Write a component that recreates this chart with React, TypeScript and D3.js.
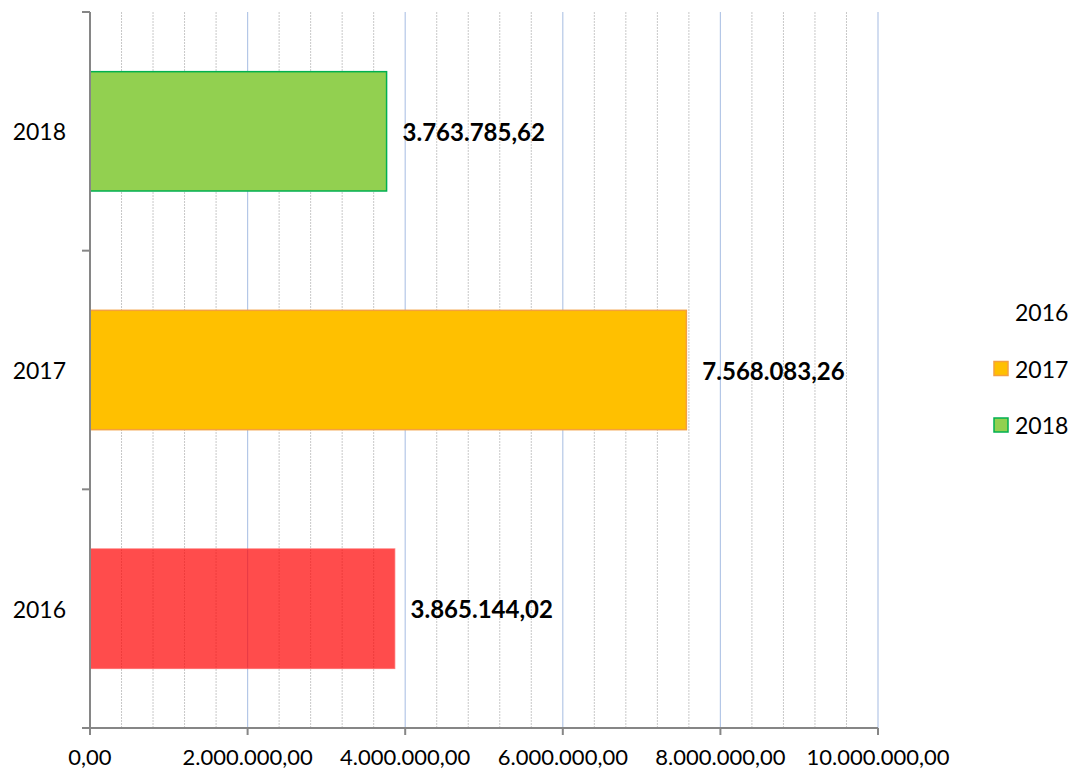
import React from "react";
import * as d3 from "d3";

const categories = ["2016", "2017", "2018"];
const values = [3865144.02, 7568083.26, 3763785.62];
const fills = ["#FF0000", "#FFC000", "#92D050"];
const strokes = ["#FF5050", "#F4A040", "#00B050"];
const fillOpacity = [0.7, 1, 1];
const xTicks = [0, 2000000, 4000000, 6000000, 8000000, 10000000];
const legendItems = ["2016", "2017", "2018"];

const W = 1076, H = 772;
const M = { left: 90, right: 198, top: 12, bottom: 44 };
const FONT = "Lato, 'Open Sans', sans-serif";

function fmt(v: number) {
  const [i, d] = v.toFixed(2).split(".");
  return i.replace(/\B(?=(\d{3})+(?!\d))/g, ".") + "," + d;
}

export default function App() {
  const x = d3.scaleLinear().domain([0, 10000000]).range([M.left, W - M.right]);
  const y = d3.scaleBand().domain([...categories].reverse()).range([M.top, H - M.bottom]).paddingInner(0.5).paddingOuter(0.25);
  const minor = d3.range(0, 10000001, 400000).filter((v) => v % 2000000 !== 0);
  const band = (H - M.bottom - M.top) / categories.length;
  const bottom = H - M.bottom;
  return (
    <svg width={W} height={H} style={{ position: "absolute", left: 0, top: 0 }} fontFamily={FONT}>
      <rect width={W} height={H} fill="#fff" />
      {minor.map((v) => (
        <line key={"m" + v} x1={x(v)} x2={x(v)} y1={M.top} y2={bottom} stroke="#C8C8C8" strokeWidth={1} strokeDasharray="2,1" />
      ))}
      {xTicks.slice(1).map((v) => (
        <line key={"g" + v} x1={x(v)} x2={x(v)} y1={M.top} y2={bottom} stroke="#B4C7E7" strokeWidth={1.2} />
      ))}
      {categories.map((c, i) => (
        <g key={c}>
          <rect x={x(0)} y={y(c)!} width={x(values[i]) - x(0)} height={y.bandwidth()} fill={fills[i]} fillOpacity={fillOpacity[i]} stroke={strokes[i]} strokeWidth={1.5} strokeOpacity={fillOpacity[i]} />
          <text x={x(values[i]) + 16} y={y(c)! + y.bandwidth() / 2} dominantBaseline="central" fontWeight="bold" fontSize={24} fill="#000">{fmt(values[i])}</text>
          <text x={66} y={y(c)! + y.bandwidth() / 2} dominantBaseline="central" textAnchor="end" fontSize={23} fill="#000">{c}</text>
        </g>
      ))}
      <line x1={M.left} x2={M.left} y1={M.top} y2={bottom} stroke="#868686" strokeWidth={2} />
      <line x1={M.left - 8} x2={W - M.right} y1={bottom} y2={bottom} stroke="#868686" strokeWidth={2} />
      {d3.range(0, categories.length).map((k) => (
        <line key={"yt" + k} x1={M.left - 8} x2={M.left} y1={M.top + k * band} y2={M.top + k * band} stroke="#868686" strokeWidth={2} />
      ))}
      {xTicks.map((v) => (
        <g key={"xt" + v}>
          <line x1={x(v)} x2={x(v)} y1={bottom} y2={bottom + 7} stroke="#868686" strokeWidth={2} />
          <text x={x(v)} y={bottom + 37} textAnchor="middle" fontSize={22} fill="#000">{fmt(v)}</text>
        </g>
      ))}
      {legendItems.map((c, i) => (
        <g key={"l" + c}>
          {i > 0 && (
            <rect x={994} y={312 + i * 56.5 - 7} width={14} height={14} fill={fills[i]} stroke={strokes[i]} strokeWidth={1.5} />
          )}
          <text x={1015} y={312 + i * 56.5} dominantBaseline="central" fontSize={23} fill="#000">{c}</text>
        </g>
      ))}
    </svg>
  );
}
